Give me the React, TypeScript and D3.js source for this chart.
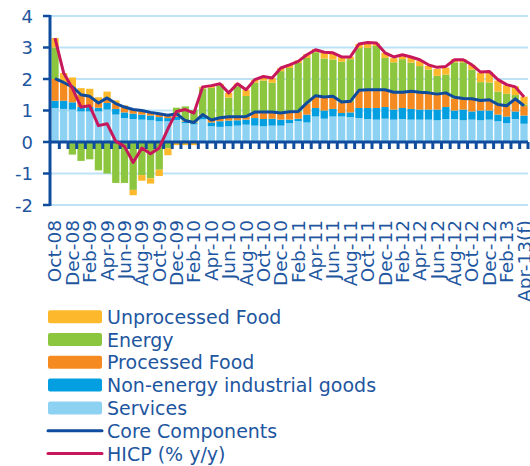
import React from "react";
import * as d3 from "d3";

const months = [
  "Oct-08","Nov-08","Dec-08","Jan-09","Feb-09","Mar-09","Apr-09","May-09","Jun-09","Jul-09","Aug-09","Sep-09",
  "Oct-09","Nov-09","Dec-09","Jan-10","Feb-10","Mar-10","Apr-10","May-10","Jun-10","Jul-10","Aug-10","Sep-10",
  "Oct-10","Nov-10","Dec-10","Jan-11","Feb-11","Mar-11","Apr-11","May-11","Jun-11","Jul-11","Aug-11","Sep-11",
  "Oct-11","Nov-11","Dec-11","Jan-12","Feb-12","Mar-12","Apr-12","May-12","Jun-12","Jul-12","Aug-12","Sep-12",
  "Oct-12","Nov-12","Dec-12","Jan-13","Feb-13","Mar-13","Apr-13(f)"
];

const tickLabels = [
  "Oct-08","Dec-08","Feb-09","Apr-09","Jun-09","Aug-09","Oct-09","Dec-09","Feb-10","Apr-10","Jun-10","Aug-10",
  "Oct-10","Dec-10","Feb-11","Apr-11","Jun-11","Aug-11","Oct-11","Dec-11","Feb-12","Apr-12","Jun-12","Aug-12",
  "Oct-12","Dec-12","Feb-13","Apr-13(f)"
];

const yTicks = [4, 3, 2, 1, 0, -1, -2];

const services = [
  1.08,1.05,1.03,0.97,0.97,0.97,1.03,0.87,0.76,0.73,0.71,0.69,0.66,0.66,0.70,0.60,0.56,0.72,0.50,0.48,
  0.50,0.52,0.55,0.52,0.50,0.52,0.52,0.60,0.66,0.62,0.81,0.74,0.81,0.81,0.79,0.76,0.73,0.71,0.74,0.71,
  0.73,0.71,0.71,0.71,0.69,0.73,0.73,0.69,0.71,0.69,0.71,0.66,0.60,0.73,0.58
];
const neig = [
  0.23,0.26,0.23,0.14,0.14,0.12,0.21,0.18,0.18,0.17,0.16,0.15,0.13,0.10,0.10,0.05,0.04,0.08,0.12,0.18,
  0.18,0.17,0.16,0.24,0.23,0.22,0.19,0.11,0.08,0.25,0.27,0.26,0.24,0.11,0.15,0.32,0.35,0.37,0.37,0.32,
  0.35,0.34,0.32,0.32,0.34,0.38,0.27,0.34,0.26,0.31,0.29,0.21,0.21,0.24,0.26
];
const processedFood = [
  0.69,0.58,0.49,0.39,0.34,0.15,0.16,0.17,0.17,0.13,0.13,0.10,0.11,0.09,0.09,0.03,0.02,0.07,0.08,0.10,
  0.10,0.10,0.09,0.18,0.22,0.21,0.21,0.25,0.22,0.35,0.37,0.40,0.37,0.33,0.33,0.54,0.56,0.56,0.53,0.53,
  0.48,0.54,0.53,0.51,0.47,0.43,0.38,0.33,0.38,0.30,0.32,0.31,0.33,0.38,0.30
];
const energy = [
  1.00,0.00,-0.40,-0.60,-0.55,-0.90,-1.00,-1.30,-1.30,-1.52,-1.05,-1.15,-0.88,-0.20,0.20,0.45,0.40,0.83,1.02,1.04,
  0.63,0.98,0.66,0.94,1.00,0.93,1.33,1.39,1.55,1.45,1.40,1.25,1.20,1.30,1.36,1.36,1.35,1.41,1.03,0.97,
  1.07,0.93,0.85,0.76,0.60,0.60,1.15,1.17,0.95,0.60,0.57,0.42,0.39,0.14,0.05
];
const unprocessedFood = [
  0.30,0.30,0.30,0.21,0.24,0.18,0.20,0.10,0.05,-0.17,-0.18,-0.17,-0.20,-0.22,-0.10,-0.10,-0.10,0.05,0.07,0.05,
  0.15,0.08,0.20,0.10,0.13,0.15,0.10,0.10,0.08,0.12,0.10,0.20,0.20,0.14,0.08,0.13,0.16,0.08,0.16,0.13,
  0.11,0.15,0.16,0.12,0.22,0.22,0.10,0.10,0.15,0.30,0.33,0.35,0.27,0.28,0.25
];
const coreComponents = [
  2.01,1.89,1.75,1.50,1.45,1.24,1.40,1.22,1.11,1.03,1.00,0.94,0.90,0.85,0.90,0.68,0.62,0.87,0.70,0.77,
  0.80,0.80,0.81,0.95,0.95,0.95,0.92,0.96,0.97,1.24,1.47,1.43,1.45,1.27,1.29,1.64,1.66,1.66,1.66,1.58,
  1.58,1.61,1.58,1.56,1.52,1.56,1.42,1.38,1.37,1.32,1.34,1.19,1.15,1.37,1.15
];
const hicp = [
  3.30,2.19,1.71,1.11,1.15,0.52,0.58,0.02,-0.14,-0.65,-0.19,-0.37,-0.19,0.42,0.97,1.03,0.92,1.75,1.79,1.85,
  1.56,1.85,1.66,1.98,2.08,2.03,2.35,2.45,2.56,2.77,2.93,2.85,2.83,2.70,2.70,3.11,3.16,3.14,2.83,2.70,
  2.77,2.70,2.61,2.45,2.37,2.40,2.61,2.61,2.45,2.22,2.24,1.98,1.82,1.75,1.43
];

const seriesKeys = ["services", "neig", "processed", "energy", "unprocessed"];
const seriesColors: Record<string, string> = {
  services: "#8DD2F2",
  neig: "#049FE0",
  processed: "#F58A20",
  energy: "#8CC63E",
  unprocessed: "#FDB92B",
};
const coreColor = "#0F4C9E";
const hicpColor = "#C8185C";
const gridColor = "#BEE3F6";
const textColor = "#1E56A0";
const font = "'DejaVu Sans', Verdana, sans-serif";

const legendItems = [
  { label: "Unprocessed Food", color: "#FDB92B", type: "rect" },
  { label: "Energy", color: "#8CC63E", type: "rect" },
  { label: "Processed Food", color: "#F58A20", type: "rect" },
  { label: "Non-energy industrial goods", color: "#049FE0", type: "rect" },
  { label: "Services", color: "#8DD2F2", type: "rect" },
  { label: "Core Components", color: coreColor, type: "line" },
  { label: "HICP (% y/y)", color: hicpColor, type: "line" },
];

export default function App() {
  const x = d3
    .scaleBand<number>()
    .domain(d3.range(months.length))
    .range([51, 528])
    .paddingInner(0.16)
    .paddingOuter(0.04);
  const y = d3.scaleLinear().domain([-2, 4]).range([205, 16]);

  const table = months.map((m, i) => ({
    month: m,
    services: services[i],
    neig: neig[i],
    processed: processedFood[i],
    energy: energy[i],
    unprocessed: unprocessedFood[i],
  }));
  const stacked = d3
    .stack<any>()
    .keys(seriesKeys)
    .offset(d3.stackOffsetDiverging)(table);

  const cx = (i: number) => (x(i) as number) + x.bandwidth() / 2;
  const line = d3
    .line<number>()
    .x((_, i) => cx(i))
    .y((d) => y(d));

  const gap = x.step() - x.bandwidth();
  const boundaries = d3.range(1, months.length + 1).map((i) =>
    i < months.length ? (x(i) as number) - gap / 2 : 528
  );

  const xLeft = 50;
  const xRight = 528;

  return (
    <svg
      width={530}
      height={466}
      style={{ position: "absolute", left: 0, top: 0, background: "#fff" }}
      fontFamily={font}
    >
      {/* gridlines */}
      {yTicks.filter((t) => t !== 0).map((t) => (
        <line key={"g" + t} x1={xLeft} x2={xRight} y1={y(t)} y2={y(t)} stroke={gridColor} strokeWidth={2} />
      ))}
      {/* bars */}
      {stacked.map((s) => (
        <g key={s.key} fill={seriesColors[s.key]}>
          {s.map((d, i) => {
            const y0 = y(d[0]);
            const y1 = y(d[1]);
            const h = Math.abs(y0 - y1);
            if (h < 0.01) return null;
            return <rect key={i} x={x(i)} y={Math.min(y0, y1)} width={x.bandwidth()} height={h} />;
          })}
        </g>
      ))}
      {/* zero axis */}
      <line x1={xLeft} x2={xRight} y1={y(0)} y2={y(0)} stroke={coreColor} strokeWidth={3} />
      {boundaries.map((b, i) => (
        <line key={"t" + i} x1={b} x2={b} y1={y(0)} y2={y(0) + 7} stroke={coreColor} strokeWidth={3} />
      ))}
      {/* y axis */}
      <line x1={xLeft} x2={xLeft} y1={y(4) - 1} y2={y(-2) + 1} stroke={coreColor} strokeWidth={3} />
      {yTicks.map((t) => (
        <g key={"yt" + t}>
          <line x1={xLeft - 7} x2={xLeft} y1={y(t)} y2={y(t)} stroke={coreColor} strokeWidth={2.5} />
          <text
            x={33}
            y={y(t)}
            textAnchor="end"
            dominantBaseline="central"
            fontSize={18}
            fill={textColor}
          >
            {t}
          </text>
        </g>
      ))}
      {/* lines */}
      <path d={line(coreComponents) || ""} fill="none" stroke={coreColor} strokeWidth={3} strokeLinejoin="round" />
      <path d={line(hicp) || ""} fill="none" stroke={hicpColor} strokeWidth={3} strokeLinejoin="round" />
      {/* x labels */}
      {tickLabels.map((lab, k) => {
        const i = k * 2;
        return (
          <text
            key={lab}
            transform={`translate(${cx(i)},220) rotate(-90)`}
            textAnchor="end"
            dominantBaseline="central"
            fontSize={18.5}
            fill={textColor}
          >
            {lab}
          </text>
        );
      })}
      {/* legend */}
      {legendItems.map((it, k) => {
        const yc = 316.7 + k * 22.8;
        return (
          <g key={it.label}>
            {it.type === "rect" ? (
              <rect x={48} y={yc - 6.5} width={54} height={13} rx={2} fill={it.color} />
            ) : (
              <line x1={48} x2={102} y1={yc} y2={yc} stroke={it.color} strokeWidth={3} strokeLinecap="round" />
            )}
            <text x={107} y={yc} dominantBaseline="central" fontSize={19} fill={textColor}>
              {it.label}
            </text>
          </g>
        );
      })}
    </svg>
  );
}
